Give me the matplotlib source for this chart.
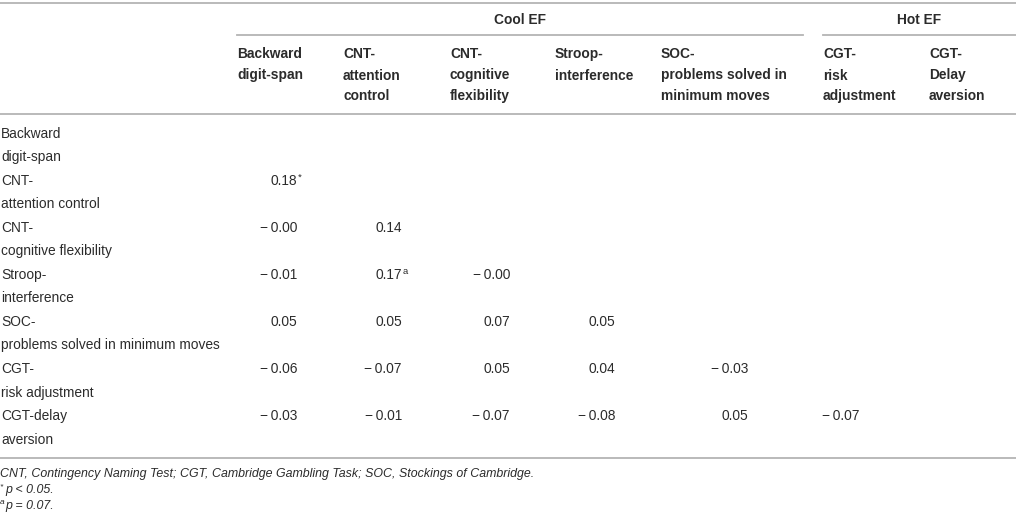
import matplotlib
matplotlib.use("Agg")
import matplotlib.pyplot as plt

# column groups and column headers
groups = ["Cool EF", "Hot EF"]
col_headers = [
    ["Backward", "digit-span"],
    ["CNT-", "attention", "control"],
    ["CNT-", "cognitive", "flexibility"],
    ["Stroop-", "interference"],
    ["SOC-", "problems solved in", "minimum moves"],
    ["CGT-", "risk", "adjustment"],
    ["CGT-", "Delay", "aversion"],
]

# row labels (two lines each)
row_labels = [
    ["Backward", "digit-span"],
    ["CNT-", "attention control"],
    ["CNT-", "cognitive flexibility"],
    ["Stroop-", "interference"],
    ["SOC-", "problems solved in minimum moves"],
    ["CGT-", "risk adjustment"],
    ["CGT-delay", "aversion"],
]

# lower triangle correlations
corr = [
    [],
    [0.18],
    [-0.0, 0.14],
    [-0.01, 0.17, -0.0],
    [0.05, 0.05, 0.07, 0.05],
    [-0.06, -0.07, 0.05, 0.04, -0.03],
    [-0.03, -0.01, -0.07, -0.08, 0.05, -0.07],
]
marks = {(1, 0): "*", (3, 1): "a"}

footnote = "CNT, Contingency Naming Test; CGT, Cambridge Gambling Task; SOC, Stockings of Cambridge."
notes = [("*", "p < 0.05."), ("a", "p = 0.07.")]

W, H = 1016, 518
fig = plt.figure(figsize=(W / 100, H / 100), dpi=100)
ax = fig.add_axes([0, 0, 1, 1])
ax.set_xlim(0, W)
ax.set_ylim(H, 0)
ax.axis("off")

plt.rcParams["font.family"] = ["Liberation Sans", "DejaVu Sans"]
txt = "#2b2b2b"
line_c = "#b4b4b4"
fs = 9.9

col_x = [237, 343, 450, 555, 661, 823, 929]
val_right = [297, 402, 510, 615, 748, 860, 966]

# rules
ax.plot([0, W], [3, 3], color=line_c, lw=1.3)
ax.plot([0, W], [114, 114], color=line_c, lw=1.3)
ax.plot([0, W], [458, 458], color=line_c, lw=1.3)
group_lines = [(237, 803), (823, W)]
for name, (x0, x1) in zip(groups, group_lines):
    ax.plot([x0, x1], [35, 35], color=line_c, lw=1.3)
    ax.text((x0 + x1) / 2, 20, name, ha="center", va="center",
            fontsize=fs, fontweight="bold", color=txt)

# column headers
head_y = [54, 75.5, 96]
for x, lines in zip(col_x, col_headers):
    for y, s in zip(head_y, lines):
        ax.text(x, y, s, ha="left", va="center", fontsize=fs,
                fontweight="bold", color=txt)

# body
y0, dy = 134, 23.5
for i, lab in enumerate(row_labels):
    ya = y0 + 2 * i * dy
    ax.text(1, ya, lab[0], ha="left", va="center", fontsize=fs, color=txt)
    ax.text(1, ya + dy, lab[1], ha="left", va="center", fontsize=fs, color=txt)
    for j, v in enumerate(corr[i]):
        s = f"{v:.2f}".replace("-", "\u2212\u2009")
        ax.text(val_right[j], ya, s, ha="right", va="center", fontsize=fs, color=txt)
        if (i, j) in marks:
            ax.text(val_right[j] + 0.5, ya - 4, marks[(i, j)], ha="left", va="center",
                    fontsize=6.8, color=txt)

# footnotes
ax.text(0, 474, footnote, ha="left", va="center", fontsize=8.9,
        style="italic", color=txt)
for k, (sup, rest) in enumerate(notes):
    y = 490 + 16 * k
    ax.text(0, y - 3, sup, ha="left", va="center", fontsize=6, style="italic", color=txt)
    ax.text(5, y, rest, ha="left", va="center", fontsize=8.9, style="italic", color=txt)

fig.savefig("out.png", dpi=100)
